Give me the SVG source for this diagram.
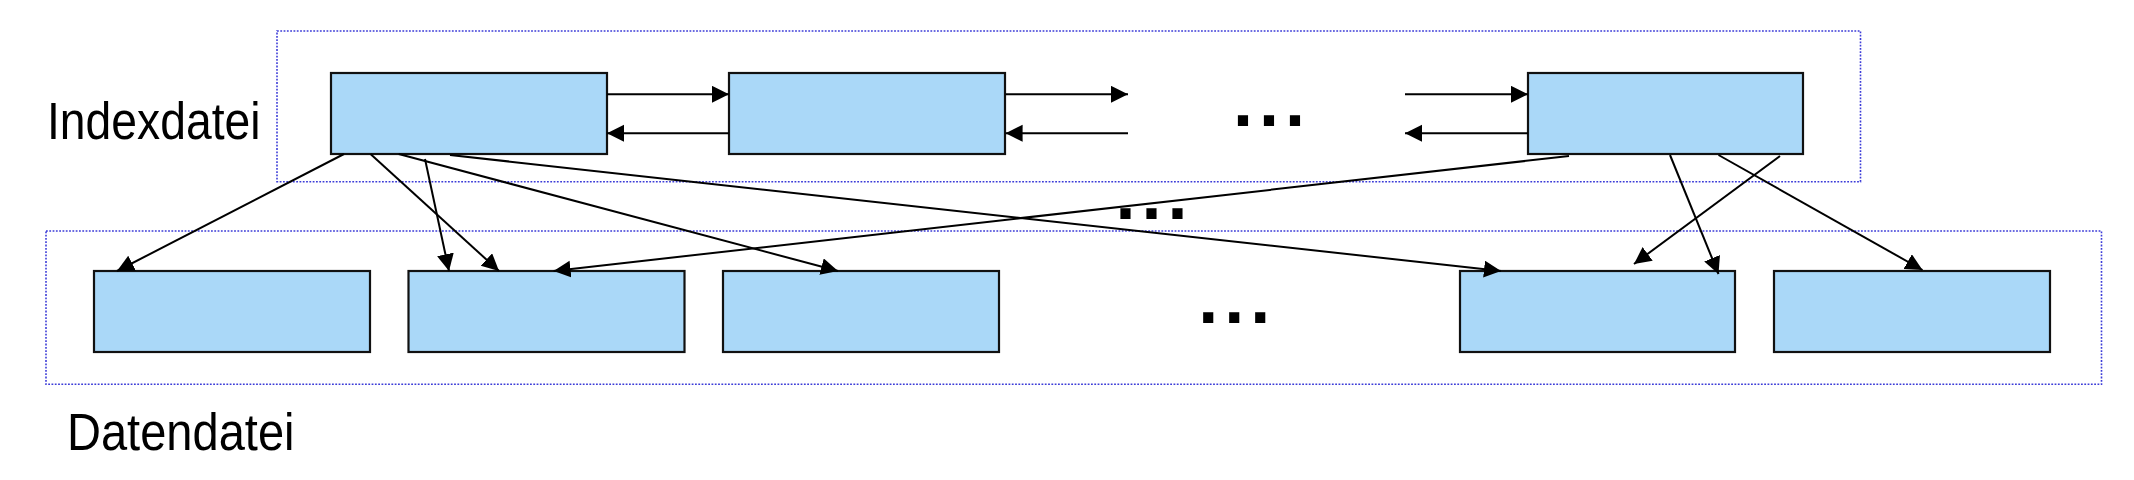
<svg xmlns="http://www.w3.org/2000/svg" width="2134" height="480" viewBox="0 0 2134 480">
<style>
.frame{fill:none;stroke:#3c3cd8;stroke-width:1.6;stroke-dasharray:1.8 1.5}
.box{fill:#aad8f8;stroke:#111;stroke-width:2.2}
.conn{fill:none;stroke:#000;stroke-width:2;marker-end:url(#ah)}
.lbl{font-family:"Liberation Sans",Arial,sans-serif;font-size:51px;fill:#000}
.dots{font-family:"Liberation Sans",Arial,sans-serif;font-weight:bold;font-size:72px;letter-spacing:6px;fill:#000}
</style>
<defs>
<marker id="ah" markerUnits="userSpaceOnUse" markerWidth="18" markerHeight="18" refX="17" refY="8.5" orient="auto">
<path d="M0,0 L17,8.5 L0,17 z" fill="#000"/>
</marker>
</defs>
<rect class="frame" x="277" y="31" width="1583.5" height="150.7"/>
<rect class="frame" x="46" y="231" width="2055.5" height="153.3"/>
<text class="lbl" x="47" y="139" textLength="213.5" lengthAdjust="spacingAndGlyphs">Indexdatei</text>
<text class="lbl" x="67" y="450" textLength="227.5" lengthAdjust="spacingAndGlyphs">Datendatei</text>
<g id="idx1"><rect class="box" x="331" y="73" width="276" height="81"/></g>
<g id="idx2"><rect class="box" x="729" y="73" width="276" height="81"/></g>
<g id="idx3"><rect class="box" x="1528" y="73" width="275" height="81"/></g>
<g id="dat1"><rect class="box" x="94" y="271" width="276" height="81"/></g>
<g id="dat2"><rect class="box" x="408.5" y="271" width="276" height="81"/></g>
<g id="dat3"><rect class="box" x="723" y="271" width="276" height="81"/></g>
<g id="dat4"><rect class="box" x="1460" y="271" width="275" height="81"/></g>
<g id="dat5"><rect class="box" x="1774" y="271" width="276" height="81"/></g>
<text class="dots" x="1233" y="126">...</text>
<text class="dots" x="1115.5" y="219">...</text>
<text class="dots" x="1198.3" y="323">...</text>
<g id="connectors">
<line class="conn" x1="607" y1="94.3" x2="729" y2="94.3"/>
<line class="conn" x1="729" y1="133.3" x2="607" y2="133.3"/>
<line class="conn" x1="1005.6" y1="94.3" x2="1128" y2="94.3"/>
<line class="conn" x1="1128" y1="133.3" x2="1005.6" y2="133.3"/>
<line class="conn" x1="1405" y1="94.3" x2="1528" y2="94.3"/>
<line class="conn" x1="1528" y1="133.3" x2="1405" y2="133.3"/>
<line class="conn" x1="344" y1="154" x2="117" y2="271"/>
<line class="conn" x1="370.5" y1="154" x2="499" y2="271"/>
<line class="conn" x1="398.7" y1="154" x2="838" y2="271"/>
<line class="conn" x1="425" y1="159" x2="449" y2="271"/>
<line class="conn" x1="450" y1="155" x2="1501" y2="271"/>
<line class="conn" x1="1569" y1="156" x2="553.6" y2="271"/>
<line class="conn" x1="1670" y1="155" x2="1718.5" y2="274"/>
<line class="conn" x1="1718.5" y1="155" x2="1922.5" y2="270"/>
<line class="conn" x1="1780" y1="156" x2="1634" y2="264"/>
</g>
</svg>
